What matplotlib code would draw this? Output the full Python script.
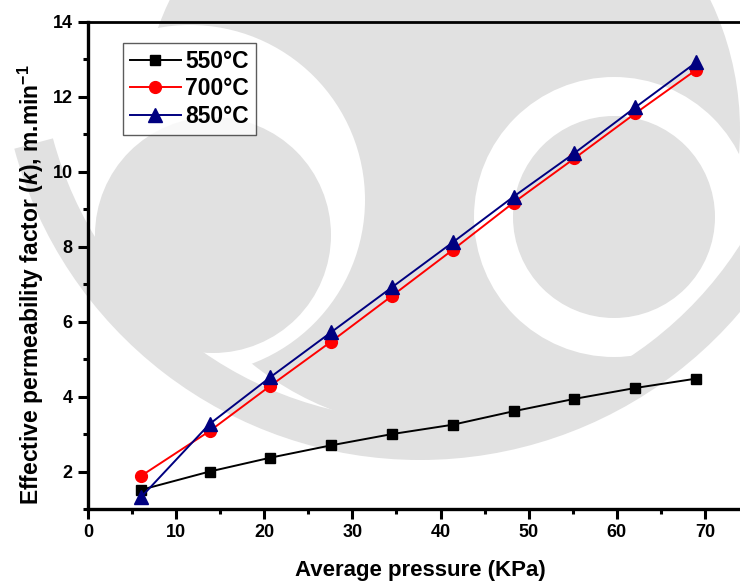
import matplotlib
matplotlib.use("Agg")
import matplotlib.pyplot as plt
from matplotlib.patches import Circle, Wedge
from matplotlib.ticker import MultipleLocator

pressure = [6.0, 13.8, 20.7, 27.6, 34.5, 41.4, 48.3, 55.2, 62.1, 69.0]
k_550 = [1.51, 2.00, 2.37, 2.70, 3.00, 3.25, 3.61, 3.94, 4.23, 4.48]
k_700 = [1.88, 3.08, 4.29, 5.47, 6.69, 7.92, 9.18, 10.36, 11.56, 12.72]
k_850 = [1.31, 3.27, 4.52, 5.72, 6.92, 8.12, 9.34, 10.50, 11.72, 12.92]
labels = ["550°C", "700°C", "850°C"]

plt.rcParams["font.family"] = ["Liberation Sans", "DejaVu Sans"]
plt.rcParams["font.weight"] = "bold"
plt.rcParams["mathtext.fontset"] = "custom"
plt.rcParams["mathtext.rm"] = "Liberation Sans:bold"
plt.rcParams["mathtext.bf"] = "Liberation Sans:bold"
plt.rcParams["mathtext.it"] = "Liberation Sans:bold:italic"

fig = plt.figure(figsize=(7.4, 5.84), dpi=100)

# rough copy of the faint logo watermark behind the chart (pixel coordinates)
bg = fig.add_axes([0, 0, 1, 1], zorder=0)
bg.set_xlim(0, 740)
bg.set_ylim(584, 0)
bg.axis("off")
wm = "#e1e1e1"
bg.add_patch(Circle((440, 130), 300, color=wm, lw=0))
bg.add_patch(Circle((190, 200), 175, color="white", lw=0))
bg.add_patch(Circle((614, 217), 140, color="white", lw=0))
bg.add_patch(Circle((213, 235), 118, color=wm, lw=0))
bg.add_patch(Circle((614, 217), 101, color=wm, lw=0))
bg.add_patch(Wedge((420, 40), 420, 15, 165, width=40, color=wm, lw=0))

# axes run past the right edge of the figure, as in the cropped original
ax = fig.add_axes([88 / 740, 75 / 584, 705 / 740, 487 / 584], zorder=1)
ax.set_facecolor("none")

ax.plot(pressure, k_550, color="black", marker="s", markersize=7.5, lw=1.4, label=labels[0])
ax.plot(pressure, k_700, color="red", marker="o", markersize=8.5, lw=1.4, label=labels[1])
ax.plot(pressure, k_850, color="#000080", marker="^", markersize=10, lw=1.4, label=labels[2])

ax.set_xlim(0, 80)
ax.set_ylim(1, 14)
ax.xaxis.set_major_locator(MultipleLocator(10))
ax.xaxis.set_minor_locator(MultipleLocator(5))
ax.yaxis.set_major_locator(MultipleLocator(2))
ax.yaxis.set_minor_locator(MultipleLocator(1))
ax.set_xticks(range(0, 80, 10))
ax.tick_params(which="major", direction="out", length=7, width=2.2, labelsize=13, pad=4)
ax.tick_params(which="minor", direction="out", length=3.5, width=2.2)
for lab in ax.get_xticklabels() + ax.get_yticklabels():
    lab.set_fontweight("bold")

for side in ["left", "bottom"]:
    ax.spines[side].set_linewidth(2.4)
ax.spines["top"].set_linewidth(2)
ax.spines["right"].set_visible(False)

ax.set_xlabel("Average pressure (KPa)", fontsize=16, fontweight="bold")
ax.set_ylabel("Effective permeability factor ($\\it{k}$), m.min$^{-1}$", fontsize=16.5, fontweight="bold")
ax.xaxis.set_label_coords(0.471, -0.105)
ax.yaxis.set_label_coords(-0.059, 0.46)

leg = ax.legend(loc="upper left", bbox_to_anchor=(0.05, 0.957), fontsize=16.5, handlelength=2.2,
                frameon=True, fancybox=False, edgecolor="#333333", borderpad=0.3, labelspacing=0.2,
                handletextpad=0.2, borderaxespad=0)
leg.get_frame().set_linewidth(1.0)
for t in leg.get_texts():
    t.set_fontweight("bold")

fig.savefig("out.png", dpi=100)
